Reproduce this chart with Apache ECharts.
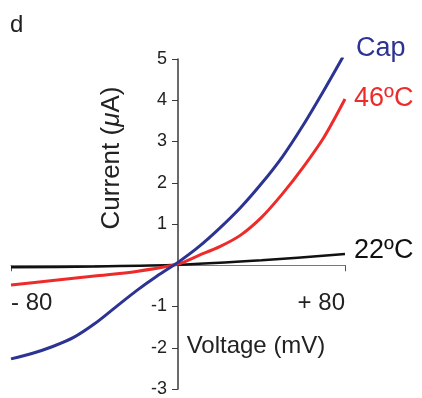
<!DOCTYPE html>
<html>
<head>
<meta charset="utf-8">
<script src="https://cdn.jsdelivr.net/npm/echarts@6/dist/echarts.min.js"></script>
<style>
  html, body { margin: 0; padding: 0; background: #fff; }
  #chart { width: 422px; height: 398px; }
</style>
</head>
<body>
<div id="chart"></div>
<script>
// values: [voltage mV, current uA]
var capData = [
  [-80, -2.27], [-70, -2.14], [-60, -1.97], [-50, -1.75], [-40, -1.42],
  [-30, -1.02], [-20, -0.62], [-10, -0.26], [0, 0.07], [10, 0.45],
  [20, 0.9], [30, 1.4], [40, 1.98], [50, 2.63], [60, 3.4], [70, 4.25], [79, 5.05]
];
var hotData = [
  [-80, -0.48], [-60, -0.37], [-40, -0.26], [-20, -0.15], [0, 0.03],
  [10, 0.24], [20, 0.45], [30, 0.73], [40, 1.16], [50, 1.73],
  [60, 2.38], [70, 3.11], [80, 4.03]
];
var roomData = [[-80, -0.05], [-40, -0.03], [0, 0.01], [40, 0.12], [80, 0.27]];
var seriesNames = ['Cap', '46ºC', '22ºC'];
var xTickLabels = { '-80': '- 80', '80': '+ 80' };

var font = 'Liberation Sans, Arial, Helvetica, sans-serif';
var chart = echarts.init(document.getElementById('chart'));

// grid geometry, so the axes can be pulled in to cross at (0, 0)
var gridLeft = 11, gridRight = 77, gridTop = 59, gridBottom = 9;
var plotW = 422 - gridLeft - gridRight, plotH = 398 - gridTop - gridBottom;
var yAxisShift = plotW * (0 - -80) / 160;   // px from left edge to V = 0
var xAxisShift = plotH * (0 - -3) / 8;      // px from bottom edge to I = 0

function lineSeries(name, data, color, width, offset) {
  return {
    name: name,
    type: 'line',
    data: data,
    smooth: 0.3,
    showSymbol: false,
    lineStyle: { color: color, width: width },
    endLabel: {
      show: true,
      formatter: name,
      color: color,
      fontSize: 27,
      fontFamily: font,
      distance: 0,
      offset: offset
    },
    z: 3
  };
}

chart.setOption({
  animation: false,
  grid: {
    left: gridLeft, right: gridRight, top: gridTop, bottom: gridBottom,
    containLabel: false, outerBoundsMode: 'none'
  },
  xAxis: {
    type: 'value',
    position: 'bottom',
    offset: -xAxisShift,
    min: -80,
    max: 80,
    interval: 80,
    axisLine: { onZero: false, lineStyle: { color: '#777', width: 1 } },
    axisTick: { show: true, length: 6, lineStyle: { color: '#555' } },
    splitLine: { show: false },
    axisLabel: {
      margin: 26,
      fontSize: 24,
      color: '#222',
      fontFamily: font,
      alignMinLabel: 'left',
      alignMaxLabel: 'right',
      formatter: function (v) { return xTickLabels[String(v)] || ''; }
    }
  },
  yAxis: {
    type: 'value',
    position: 'left',
    offset: -yAxisShift,
    min: -3,
    max: 5,
    interval: 1,
    axisLine: { show: true, onZero: false, lineStyle: { color: '#3a3a3a', width: 1.5 } },
    axisTick: { show: true, length: 6, lineStyle: { color: '#3a3a3a' } },
    splitLine: { show: false },
    axisLabel: {
      margin: 11, fontSize: 18, color: '#222', fontFamily: font,
      formatter: function (v) { return v === 0 ? '' : String(v); }
    }
  },
  graphic: [
    { type: 'text', left: 10, top: 13, style: { text: 'd', fontSize: 24, fill: '#222', fontFamily: font } },
    {
      type: 'text', x: 112, y: 158, rotation: Math.PI / 2,
      style: {
        text: 'Current ({i|μ}A)', fontSize: 26, fill: '#222', fontFamily: font,
        align: 'center', verticalAlign: 'middle',
        rich: { i: { fontStyle: 'italic', fontSize: 26, fontFamily: font, fill: '#222' } }
      }
    },
    {
      type: 'text', x: 256, y: 346,
      style: { text: 'Voltage (mV)', fontSize: 24, fill: '#222', fontFamily: font, align: 'center', verticalAlign: 'middle' }
    }
  ],
  series: [
    lineSeries(seriesNames[2], roomData, '#111111', 2.5, [9, -4]),
    lineSeries(seriesNames[1], hotData, '#ee2b2b', 3, [9, 0]),
    lineSeries(seriesNames[0], capData, '#2c3392', 3, [13, -8])
  ]
});
</script>
</body>
</html>
